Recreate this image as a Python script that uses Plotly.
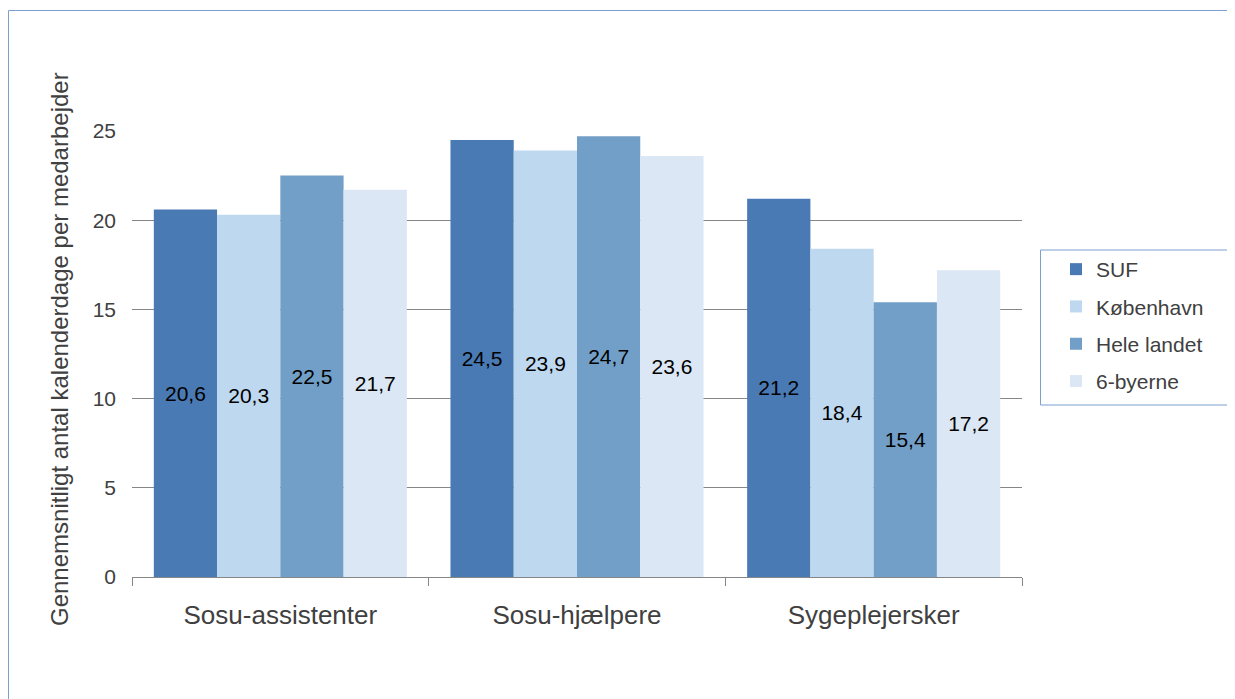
import plotly.graph_objects as go

categories = ['Sosu-assistenter', 'Sosu-hjælpere', 'Sygeplejersker']
series_names = ['SUF', 'København', 'Hele landet', '6-byerne']
suf = [20.6, 24.5, 21.2]
koebenhavn = [20.3, 23.9, 18.4]
hele_landet = [22.5, 24.7, 15.4]
seks_byerne = [21.7, 23.6, 17.2]
y_ticks = [0, 5, 10, 15, 20, 25]

colors = ['#4A7AB4', '#BED8F0', '#729FC7', '#DBE7F5']
font_family = 'Liberation Sans, Arial, sans-serif'

fig = go.Figure()
for i, (name, vals) in enumerate(zip(series_names, [suf, koebenhavn, hele_landet, seks_byerne])):
    fig.add_trace(go.Bar(
        x=categories,
        y=vals,
        name=name,
        legendgroup=name,
        marker=dict(color=colors[i], line=dict(width=0)),
        texttemplate='%{y:.1f}',
        textposition='inside',
        insidetextanchor='middle',
        textangle=0,
        constraintext='none',
        textfont=dict(size=21, color='#000000', family=font_family),
    ))

# page offset of the figure (body margin) and plot area in page pixels
OFF = 8
W, H = 1235 - OFF, 699 - OFF
L, R, T, B = 132 - OFF, 1022 - OFF, 131 - OFF, 577 - OFF
pw, ph = R - L, B - T

def px_x(v):
    return (v - OFF - L) / pw

def px_y(v):
    return (B - (v - OFF)) / ph

def border_line(x0, y0, x1, y1):
    return dict(type='line', xref='paper', yref='paper',
                x0=px_x(x0), y0=px_y(y0), x1=px_x(x1), y1=px_y(y1),
                line=dict(color='#7DA0D0', width=1), layer='below')

fig.update_layout(
    width=W,
    height=H,
    margin=dict(l=L, r=W - R, t=T, b=H - B, autoexpand=False),
    barmode='group',
    bargap=0.147,
    bargroupgap=0,
    separators=',.',
    plot_bgcolor='white',
    paper_bgcolor='white',
    font=dict(family=font_family, color='#404040', size=21),
    showlegend=True,
    legend=dict(
        x=px_x(1056), y=px_y(249),
        xanchor='left', yanchor='top',
        traceorder='grouped',
        tracegroupgap=7,
        font=dict(size=21, color='#404040'),
        bgcolor='rgba(0,0,0,0)',
        borderwidth=0,
    ),
    xaxis=dict(
        showline=True,
        linecolor='#868686',
        linewidth=1,
        ticks='outside',
        tickson='boundaries',
        ticklen=8,
        tickcolor='#868686',
        tickfont=dict(size=26, color='#404040'),
        ticklabelstandoff=15,
        showgrid=False,
    ),
    yaxis=dict(
        range=[0, 25],
        tickvals=y_ticks,
        showgrid=True,
        gridcolor='#868686',
        gridwidth=1,
        zeroline=False,
        showline=False,
        ticks='',
        ticklabelstandoff=15,
        tickfont=dict(size=21, color='#404040'),
    ),
    shapes=[
        # outer chart border (cut off at right and bottom)
        border_line(8.5, 10.5, 8.5, 720),
        border_line(8.5, 10.5, 1260, 10.5),
        # legend box (cut off at right)
        border_line(1040.5, 250, 1040.5, 405),
        border_line(1040.5, 250, 1260, 250),
        border_line(1040.5, 405, 1260, 405),
    ],
    annotations=[
        dict(text='Gennemsnitligt antal kalenderdage per medarbejder',
             xref='paper', yref='paper', x=px_x(59), y=px_y(349),
             xanchor='center', yanchor='middle', textangle=-90,
             showarrow=False, font=dict(size=24, color='#404040')),
    ],
)

fig.write_html('out.html')
